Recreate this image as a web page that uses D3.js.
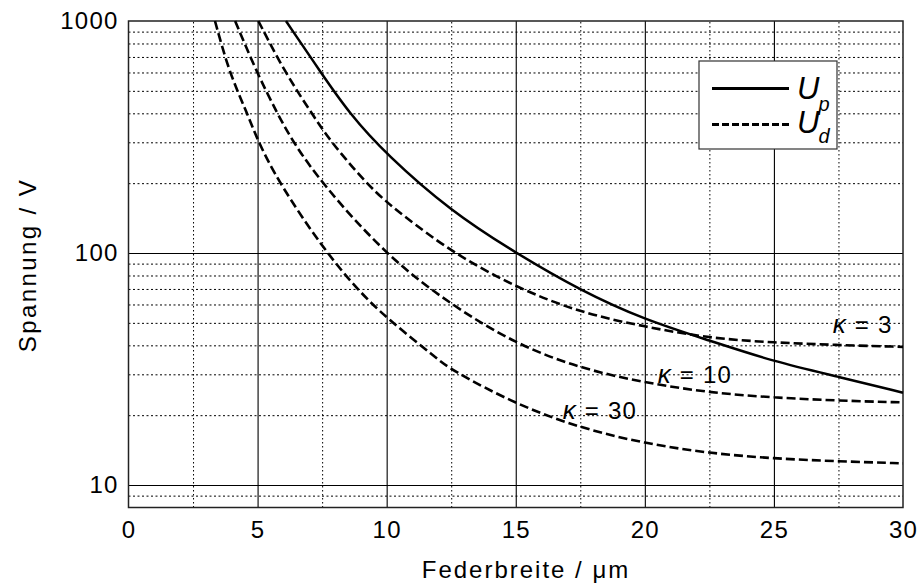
<!doctype html>
<html>
<head>
<meta charset="utf-8">
<title>Spannung vs Federbreite</title>
<style>
  body { margin: 0; background: #fff; }
  svg { display: block; font-family: "Liberation Sans", Arial, sans-serif; }
  .grid line { stroke: #000; }
  .grid path { display: none; }
</style>
</head>
<body>
<svg id="chart" width="919" height="587"></svg>

<script src="https://d3js.org/d3.v7.min.js"></script>
<script>
// --- data ---
var xTicks = [0, 5, 10, 15, 20, 25, 30];
var yTicks = [10, 100, 1000];
var xMinor = [2.5, 7.5, 12.5, 17.5, 22.5, 27.5];
var yMinor = [9, 20, 30, 40, 50, 60, 70, 80, 90, 200, 300, 400, 500, 600, 700, 800, 900];

// U_p (solid)
var upWidth = [6.1, 7.45, 8.55, 10, 12.5, 15, 17.5, 20, 22.5, 25, 27.5, 30];
var upVolt  = [1000, 600, 400, 265, 151, 100, 69, 51.5, 42, 34, 29.3, 25];

// U_d for kappa = 3, 10, 30 (dashed)
var ud3Width = [5.03, 6.06, 7.1, 7.8, 9.2, 10, 10.51, 12.5, 15, 17.5, 20, 22.5, 25, 27.5, 30];
var ud3Volt  = [1000, 600, 400, 305, 200, 166, 149, 101, 71.1, 55.3, 48.1, 42.9, 41.1, 40.1, 39.4];

var ud10Width = [4.13, 4.97, 5.76, 6.38, 7.48, 10, 12.5, 15, 17.5, 20, 22.5, 25, 27.5, 30];
var ud10Volt  = [1000, 600, 400, 300, 200, 97, 59.7, 40.5, 31.8, 27.6, 25.0, 23.8, 23.1, 22.7];

var ud30Width = [3.35, 3.9, 4.6, 5.03, 5.84, 7.5, 8.84, 10, 11.94, 12.5, 15, 17.5, 20, 22.5, 25, 27.5, 30];
var ud30Volt  = [1000, 600, 400, 300, 200, 106, 70, 52.3, 35.2, 31.3, 22.3, 17.6, 15.1, 13.7, 13.0, 12.65, 12.4];

var kappaNames = ['3', '10', '30'];
var kappaLabelX = [27.28, 20.5, 16.82];
var kappaLabelY = [45.2, 27.5, 19.2];

// --- layout ---
var plotLeft = 128.5, plotRight = 903, plotTop = 21, plotBottom = 507.5;

var svg = d3.select('#chart');

var x = d3.scaleLinear().domain([0, 30]).range([plotLeft, plotRight]);
var y = d3.scaleLog().domain([8, 1000]).range([plotBottom, plotTop]);

// minor grid (dotted)
svg.append('g')
    .attr('class', 'grid')
    .attr('transform', 'translate(0,' + plotBottom + ')')
    .call(d3.axisBottom(x).tickValues(xMinor).tickSize(-(plotBottom - plotTop)).tickFormat(''))
    .selectAll('line')
    .attr('stroke-width', 1)
    .attr('stroke-dasharray', '1.5,2.5');

svg.append('g')
    .attr('class', 'grid')
    .attr('transform', 'translate(' + plotLeft + ',0)')
    .call(d3.axisLeft(y).tickValues(yMinor).tickSize(-(plotRight - plotLeft)).tickFormat(''))
    .selectAll('line')
    .attr('stroke-width', 1)
    .attr('stroke-dasharray', '2,2.5');

// major grid (solid)
svg.append('g')
    .attr('class', 'grid')
    .attr('transform', 'translate(0,' + plotBottom + ')')
    .call(d3.axisBottom(x).tickValues([5, 10, 15, 20, 25]).tickSize(-(plotBottom - plotTop)).tickFormat(''))
    .selectAll('line')
    .attr('stroke-width', 1.1)
    .attr('stroke', '#222');

svg.append('g')
    .attr('class', 'grid')
    .attr('transform', 'translate(' + plotLeft + ',0)')
    .call(d3.axisLeft(y).tickValues([10, 100]).tickSize(-(plotRight - plotLeft)).tickFormat(''))
    .selectAll('line')
    .attr('stroke-width', 1.1)
    .attr('stroke', '#222');

// frame
svg.append('rect')
    .attr('x', plotLeft).attr('y', plotTop)
    .attr('width', plotRight - plotLeft).attr('height', plotBottom - plotTop)
    .attr('fill', 'none')
    .attr('stroke', '#222')
    .attr('stroke-width', 1.5);

// tick labels
var xAxis = svg.append('g')
    .attr('transform', 'translate(0,' + plotBottom + ')')
    .call(d3.axisBottom(x).tickValues(xTicks).tickSize(0).tickPadding(13.5));
xAxis.select('.domain').remove();
xAxis.selectAll('text')
    .attr('font-size', 24)
    .attr('font-family', '"Liberation Sans", Arial, sans-serif')
    .attr('fill', '#000')
    .style('letter-spacing', '1.2px');

var yAxis = svg.append('g')
    .attr('transform', 'translate(' + plotLeft + ',0)')
    .call(d3.axisLeft(y).tickValues(yTicks).tickSize(0).tickPadding(10).tickFormat(d3.format('d')));
yAxis.select('.domain').remove();
yAxis.selectAll('text')
    .attr('font-size', 24)
    .attr('font-family', '"Liberation Sans", Arial, sans-serif')
    .attr('fill', '#000')
    .style('letter-spacing', '1.2px');

// axis titles
svg.append('text')
    .attr('x', 526)
    .attr('y', 578)
    .attr('text-anchor', 'middle')
    .attr('font-size', 24)
    .style('letter-spacing', '2px')
    .text('Federbreite / \u03bcm');

svg.append('text')
    .attr('transform', 'translate(36,265) rotate(-90)')
    .attr('text-anchor', 'middle')
    .attr('font-size', 24)
    .style('letter-spacing', '2.4px')
    .text('Spannung / V');

// curves
var line = d3.line()
    .x(function(d){ return x(d[0]); })
    .y(function(d){ return y(d[1]); })
    .curve(d3.curveBasis);

function pairs(xs, ys){
    return xs.map(function(v, i){ return [v, ys[i]]; });
}

var dashed = [pairs(ud3Width, ud3Volt), pairs(ud10Width, ud10Volt), pairs(ud30Width, ud30Volt)];

svg.append('g')
    .selectAll('path')
    .data(dashed)
    .enter()
    .append('path')
    .attr('d', line)
    .attr('fill', 'none')
    .attr('stroke', '#000')
    .attr('stroke-width', 2.6)
    .attr('stroke-dasharray', '9,4');

svg.append('path')
    .attr('d', line(pairs(upWidth, upVolt)))
    .attr('fill', 'none')
    .attr('stroke', '#000')
    .attr('stroke-width', 2.5);

// kappa labels
var kl = svg.append('g')
    .selectAll('text')
    .data(kappaNames)
    .enter()
    .append('text')
    .attr('x', function(d, i){ return x(kappaLabelX[i]); })
    .attr('y', function(d, i){ return y(kappaLabelY[i]); })
    .attr('font-size', 24)
    .style('letter-spacing', '1.2px');
kl.append('tspan')
    .attr('font-style', 'italic')
    .attr('font-size', 26)
    .text('\u03ba');
kl.append('tspan')
    .text(function(d){ return ' = ' + d; });

// legend
var lg = svg.append('g');
lg.append('rect')
    .attr('x', 699).attr('y', 61)
    .attr('width', 138).attr('height', 88)
    .attr('fill', '#fff')
    .attr('stroke', '#333')
    .attr('stroke-width', 1.2);
lg.append('line')
    .attr('x1', 712).attr('x2', 789)
    .attr('y1', 88.5).attr('y2', 88.5)
    .attr('stroke', '#000').attr('stroke-width', 2.8);
lg.append('line')
    .attr('x1', 712).attr('x2', 789)
    .attr('y1', 124.5).attr('y2', 124.5)
    .attr('stroke', '#000').attr('stroke-width', 2.8)
    .attr('stroke-dasharray', '7,3');

var legendNames = ['p', 'd'];
var legendBase = [99, 133];
var lt = lg.selectAll('text.lab')
    .data(legendNames)
    .enter()
    .append('text')
    .attr('class', 'lab')
    .attr('x', 797)
    .attr('y', function(d, i){ return legendBase[i]; })
    .attr('font-style', 'italic');
lt.append('tspan')
    .attr('font-size', 31)
    .text('U');
lt.append('tspan')
    .attr('font-size', 20)
    .attr('dx', -1)
    .attr('dy', function(d){ return d === 'p' ? 12 : 10; })
    .text(function(d){ return d; });
</script>
</body>
</html>
